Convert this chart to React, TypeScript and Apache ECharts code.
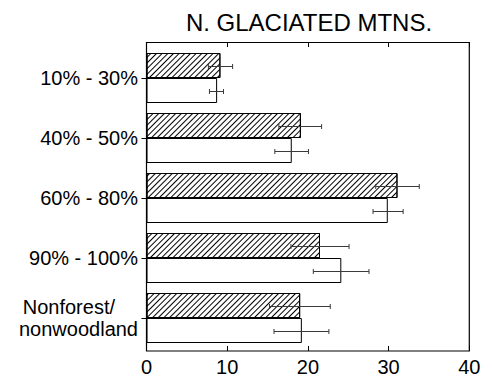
import React, { useEffect, useRef } from "react";
import * as echarts from "echarts";

const title = "N. GLACIATED MTNS.";
const categories = ["10% - 30%", "40% - 50%", "60% - 80%", "90% - 100%", "Nonforest/\nnonwoodland"];
const hatchedValues = [9.16, 19.13, 31.1, 21.5, 19.04];
const hatchedLow = [7.67, 16.4, 28.4, 17.9, 15.24];
const hatchedHigh = [10.67, 21.7, 33.8, 25.1, 22.77];
const openValues = [8.75, 18.0, 29.9, 24.14, 19.25];
const openLow = [7.8, 15.9, 28.07, 20.67, 15.8];
const openHigh = [9.54, 20.07, 31.8, 27.57, 22.6];
const xTicks = [0, 10, 20, 30, 40];

const FONT = "'Liberation Sans', Arial, sans-serif";
const BAR_W = 25;

export default function App() {
  const ref = useRef<HTMLDivElement>(null);
  useEffect(() => {
    if (!ref.current) return;
    const chart = echarts.init(ref.current, null, { renderer: "svg" });
    const errData = (low: number[], high: number[]) =>
      categories.map((_, i) => [i, low[i], high[i]]);
    const errRender = (shift: number) => (params: any, api: any) => {
      const ci = api.value(0);
      const p1 = api.coord([api.value(1), ci]);
      const p2 = api.coord([api.value(2), ci]);
      const y = Math.round(p1[1] + shift) + 0.5;
      const style = { stroke: "#3a3a3a", lineWidth: 1 };
      return {
        type: "group",
        children: [
          { type: "line", shape: { x1: p1[0], y1: y, x2: p2[0], y2: y }, style },
          { type: "line", shape: { x1: p1[0], y1: y - 2.5, x2: p1[0], y2: y + 2.5 }, style },
          { type: "line", shape: { x1: p2[0], y1: y - 2.5, x2: p2[0], y2: y + 2.5 }, style },
        ],
      };
    };
    const gridLeft = 146.5;
    const gridRight = 23.7;
    const gridTop = 48;
    const gridH = 300;
    chart.setOption({
      animation: false,
      title: {
        text: title,
        left: 304,
        top: 5,
        textAlign: "center",
        textStyle: { fontFamily: FONT, fontSize: 24, fontWeight: "normal", color: "#000" },
      },
      grid: { left: gridLeft, right: gridRight, top: gridTop, height: gridH, containLabel: false },
      xAxis: [
        {
          type: "value",
          position: "bottom",
          min: 0,
          max: 40,
          interval: 10,
          offset: 3,
          axisLine: { show: false },
          axisTick: { show: true, inside: true, length: 5, lineStyle: { color: "#000" } },
          splitLine: { show: false },
          axisLabel: {
            margin: 6,
            fontFamily: FONT,
            fontSize: 20,
            color: "#000",
            formatter: (v: number) => (xTicks.includes(v) ? String(v) : ""),
          },
        },
        {
          type: "value",
          position: "top",
          min: 0,
          max: 40,
          interval: 10,
          offset: 6,
          axisLine: { show: false },
          axisTick: { show: true, inside: true, length: 5, lineStyle: { color: "#000" } },
          splitLine: { show: false },
          axisLabel: { show: false },
        },
      ],
      yAxis: [
        {
          type: "category",
          data: categories,
          inverse: true,
          position: "left",
          axisLine: { show: false },
          axisTick: { show: false },
          axisLabel: {
            margin: 8.5,
            fontFamily: FONT,
            fontSize: 20,
            color: "#000",
            lineHeight: 22,
            formatter: (v: string) => {
              if (v.indexOf("\n") >= 0) {
                const [a, b] = v.split("\n");
                return `{a|${a}}\n{b|${b}}`;
              }
              return v;
            },
            rich: {
              a: { fontFamily: FONT, fontSize: 20, color: "#000", lineHeight: 22, padding: [0, 23, 0, 0] },
              b: { fontFamily: FONT, fontSize: 20, color: "#000", lineHeight: 22 },
            },
          },
        },
        {
          type: "category",
          data: categories,
          inverse: true,
          position: "right",
          axisLine: { show: false },
          axisTick: { show: true, inside: true, alignWithLabel: true, length: 5, lineStyle: { color: "#000" } },
          axisLabel: { show: false },
        },
      ],
      graphic: [
        {
          type: "rect",
          shape: { x: 146.5, y: 42.5, width: 469.3 - 146.5, height: 351 - 42.5 },
          style: { fill: "none", stroke: "#000", lineWidth: 1.2 },
          z: 100,
        },
      ],
      series: [
        {
          type: "bar",
          data: hatchedValues,
          barWidth: BAR_W,
          barGap: "0%",
          itemStyle: {
            color: "#fff",
            borderColor: "#000",
            borderWidth: 1,
            decal: {
              symbol: "rect",
              symbolSize: 1,
              color: "#000",
              dashArrayX: [1, 0],
              dashArrayY: [1, 2.2],
              rotation: -Math.PI / 4,
            },
          },
          z: 2,
        },
        {
          type: "bar",
          data: openValues,
          barWidth: BAR_W,
          barGap: "0%",
          itemStyle: { color: "#fff", borderColor: "#000", borderWidth: 1 },
          z: 2,
        },
        {
          type: "custom",
          data: errData(hatchedLow, hatchedHigh),
          renderItem: errRender(-BAR_W / 2),
          encode: { x: [1, 2], y: 0 },
          z: 5,
        },
        {
          type: "custom",
          data: errData(openLow, openHigh),
          renderItem: errRender(BAR_W / 2),
          encode: { x: [1, 2], y: 0 },
          z: 5,
        },
      ],
    });
    return () => chart.dispose();
  }, []);
  return <div ref={ref} style={{ width: 493, height: 381, position: "absolute", left: 0, top: 0 }} />;
}
